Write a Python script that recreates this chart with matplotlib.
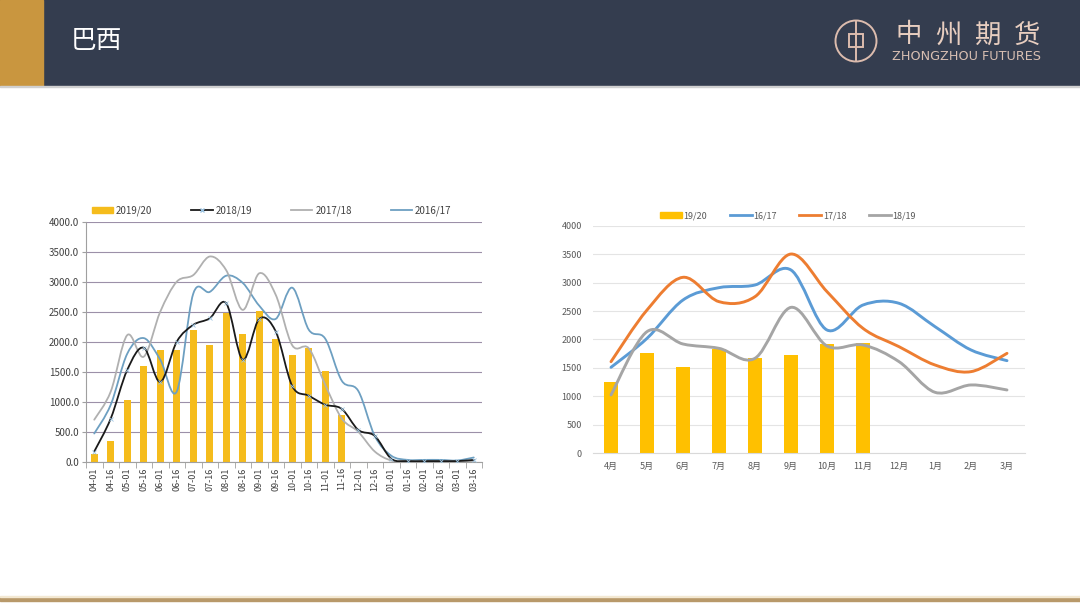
import numpy as np
import matplotlib
matplotlib.use("Agg")
import matplotlib.pyplot as plt
from matplotlib.path import Path
from matplotlib.patches import PathPatch, Rectangle, Circle
from matplotlib.lines import Line2D

plt.rcParams['font.family'] = ['Noto Sans CJK SC', 'DejaVu Sans']

# ---- left chart data (half-month periods) ----
periods = ['04-01', '04-16', '05-01', '05-16', '06-01', '06-16', '07-01', '07-16',
           '08-01', '08-16', '09-01', '09-16', '10-01', '10-16', '11-01', '11-16',
           '12-01', '12-16', '01-01', '01-16', '02-01', '02-16', '03-01', '03-16']
bars_1920 = [130, 340, 1030, 1600, 1860, 1870, 2200, 1940, 2480, 2130, 2510, 2040,
             1780, 1900, 1520, 780]
line_1819 = [170, 720, 1530, 1900, 1330, 2000, 2280, 2390, 2640, 1700, 2380, 2170,
             1260, 1100, 950, 880, 530, 430, 50, 10, 10, 10, 10, 30]
line_1718 = [700, 1170, 2110, 1750, 2500, 3000, 3110, 3420, 3190, 2530, 3140, 2780,
             1940, 1890, 1280, 720, 500, 170, 20, 5, 5, 5, 5, 5]
line_1617 = [470, 950, 1800, 2060, 1700, 1170, 2800, 2830, 3100, 2980, 2600, 2380,
             2900, 2200, 2050, 1350, 1180, 430, 100, 30, 30, 30, 20, 70]

# ---- right chart data (months) ----
months = ['4月', '5月', '6月', '7月', '8月', '9月', '10月', '11月', '12月', '1月', '2月', '3月']
m_1920 = [1260, 1770, 1523, 1833, 1670, 1722, 1921, 1933]
m_1617 = [1511, 2020, 2694, 2911, 2958, 3221, 2167, 2606, 2636, 2226, 1816, 1628]
m_1718 = [1610, 2518, 3093, 2665, 2753, 3502, 2841, 2196, 1874, 1552, 1435, 1757]
m_1819 = [1025, 2138, 1921, 1845, 1670, 2565, 1886, 1904, 1611, 1072, 1201, 1113]


def smooth_path(xs, ys):
    # Catmull-Rom style bezier through the points (like Excel smoothed lines)
    pts = np.column_stack([xs, ys]).astype(float)
    n = len(pts)
    verts = [pts[0]]
    codes = [Path.MOVETO]
    for i in range(n - 1):
        p0 = pts[i - 1] if i > 0 else pts[i]
        p1 = pts[i]
        p2 = pts[i + 1]
        p3 = pts[i + 2] if i + 2 < n else pts[i + 1]
        c1 = p1 + (p2 - p0) / 6.0
        c2 = p2 - (p3 - p1) / 6.0
        verts += [c1, c2, p2]
        codes += [Path.CURVE4] * 3
    return Path(verts, codes)


def add_smooth(ax, ys, color, lw, z=3):
    xs = np.arange(len(ys))
    patch = PathPatch(smooth_path(xs, ys), fill=False, edgecolor=color, lw=lw,
                      zorder=z, capstyle='round', joinstyle='round')
    ax.add_patch(patch)


fig = plt.figure(figsize=(10.8, 6.07), dpi=100)
W, H = 1080, 607

def fx(px):
    return px / W

def fy(py):
    return 1 - py / H

# ---- header ----
bg = fig.add_axes([0, 0, 1, 1])
bg.set_xlim(0, W)
bg.set_ylim(H, 0)
bg.axis('off')
bg.add_patch(Rectangle((0, 0), W, 86, color='#343d4f', zorder=1))
bg.add_patch(Rectangle((0, 0), 43, 86, color='#c9963f', zorder=2))
bg.add_patch(Rectangle((0, 86), W, 1.2, color='#d0d0d0', zorder=2))
bg.add_patch(Rectangle((0, 597), W, 4, color='#b8996a', zorder=2))
bg.add_patch(Rectangle((0, 595.5), W, 1.5, color='#f3e8d2', zorder=2))
bg.text(71, 41, '巴西', color='white', fontsize=18.5, va='center', ha='left', zorder=3)
logo = '#dcbcae'
bg.add_patch(Circle((856, 41), 20.5, fill=False, ec=logo, lw=1.4, zorder=3))
bg.add_patch(Rectangle((849, 34), 14, 13, fill=False, ec=logo, lw=1.4, zorder=3))
bg.plot([856, 856], [22, 60], color=logo, lw=1.4, zorder=3)
for i, ch in enumerate('中州期货'):
    bg.text(909 + 39.5 * i, 35, ch, color='#e8cec0', fontsize=19, va='center',
            ha='center', zorder=3)
bg.text(892, 57, 'ZHONGZHOU FUTURES', color='#d8bfb2', fontsize=9.2, va='center',
        ha='left', zorder=3, family='DejaVu Sans')

# ---- left chart ----
axl = fig.add_axes([fx(86), fy(461.7), fx(482 - 86), (461.7 - 221.7) / H])
xl = np.arange(len(periods))
axl.bar(xl[:len(bars_1920)], bars_1920, width=0.42, color='#f5bc1c', zorder=2)
add_smooth(axl, line_1617, '#6d9fc1', 1.3)
add_smooth(axl, line_1718, '#b0b0b0', 1.3)
add_smooth(axl, line_1819, '#1a1a1a', 1.3, z=4)
axl.plot(xl, line_1819, ls='none', marker='x', ms=2.5, mew=0.6, color='#9cc3e0', zorder=5)
axl.set_xlim(-0.5, len(periods) - 0.5)
axl.set_ylim(0, 4000)
axl.set_yticks(np.arange(0, 4001, 500))
axl.set_yticklabels(['%.1f' % v for v in np.arange(0, 4001, 500)])
axl.set_xticks(xl)
axl.set_xticklabels(periods, rotation=90)
axl.set_xticks(np.arange(-0.5, len(periods), 1), minor=True)
axl.tick_params(axis='x', which='major', length=0, labelsize=6.5, colors='#404040', pad=4)
axl.tick_params(axis='x', which='minor', length=4, color='#a0a0a0')
axl.tick_params(axis='y', length=3, color='#a0a0a0', labelsize=7, colors='#404040', pad=2)
axl.grid(axis='y', color='#9c90a8', lw=0.8, zorder=0)
axl.set_axisbelow(True)
for s in ['top', 'right']:
    axl.spines[s].set_visible(False)
axl.spines['left'].set_color('#a0a0a0')
axl.spines['bottom'].set_color('#a0a0a0')

hl = [Rectangle((0, 0), 1, 1, color='#f5bc1c'),
      Line2D([], [], color='#1a1a1a', lw=1.3, marker='x', ms=2.5, mfc='#9cc3e0', mec='#9cc3e0'),
      Line2D([], [], color='#b0b0b0', lw=1.3),
      Line2D([], [], color='#6d9fc1', lw=1.3)]
axl.legend(hl, ['2019/20', '2018/19', '2017/18', '2016/17'], loc='lower left',
           bbox_to_anchor=(0.0, 1.0), ncol=4, frameon=False, fontsize=7,
           handlelength=2.2, handleheight=0.6, columnspacing=4.0, handletextpad=0.3,
           borderaxespad=0.2, labelcolor='#404040')

# ---- right chart ----
axr = fig.add_axes([fx(593), fy(453.3), fx(1025 - 593), (453.3 - 225.7) / H])
xr = np.arange(len(months))
axr.bar(xr[:len(m_1920)], m_1920, width=0.41, color='#ffc000', zorder=2)
add_smooth(axr, m_1617, '#5b9bd5', 2.1)
add_smooth(axr, m_1718, '#ed7d31', 2.1)
add_smooth(axr, m_1819, '#a5a5a5', 2.1)
axr.set_xlim(-0.5, len(months) - 0.5)
axr.set_ylim(0, 4000)
axr.set_yticks(np.arange(0, 4001, 500))
axr.set_xticks(xr)
axr.set_xticklabels(months)
axr.tick_params(axis='both', length=0, labelsize=6.5, colors='#595959')
axr.tick_params(axis='y', pad=8)
axr.tick_params(axis='x', pad=6)
axr.grid(axis='y', color='#e4e4e4', lw=0.8, zorder=0)
axr.set_axisbelow(True)
for s in ['top', 'right', 'left']:
    axr.spines[s].set_visible(False)
axr.spines['bottom'].set_color('#d9d9d9')

hr = [Rectangle((0, 0), 1, 1, color='#ffc000'),
      Line2D([], [], color='#5b9bd5', lw=2),
      Line2D([], [], color='#ed7d31', lw=2),
      Line2D([], [], color='#a5a5a5', lw=2)]
axr.legend(hr, ['19/20', '16/17', '17/18', '18/19'], loc='lower left',
           bbox_to_anchor=(0.142, 1.0), ncol=4, frameon=False, fontsize=6.5,
           handlelength=2.45, handleheight=0.6, columnspacing=2.45, handletextpad=0.2,
           borderaxespad=0.2, labelcolor='#595959')

fig.savefig('out.png', dpi=100)
